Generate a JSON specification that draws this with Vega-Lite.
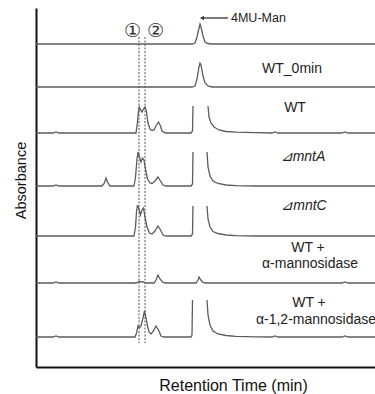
{
  "$schema": "https://vega.github.io/schema/vega-lite/v6.json",
  "width": 339,
  "height": 359,
  "padding": {"left": 36, "top": 8, "right": 0, "bottom": 27},
  "autosize": {"type": "none"},
  "config": {"view": {"stroke": null}, "font": "Liberation Sans"},
  "datasets": {
    "traces": [
      {"trace":"4MU","part":"a","time":0,"abs":323},{"trace":"4MU","part":"a","time":15.6,"abs":323},{"trace":"4MU","part":"a","time":15.9,"abs":324},{"trace":"4MU","part":"a","time":16.1,"abs":330},{"trace":"4MU","part":"a","time":16.3,"abs":339},{"trace":"4MU","part":"a","time":16.4,"abs":343},{"trace":"4MU","part":"a","time":16.5,"abs":340},{"trace":"4MU","part":"a","time":16.7,"abs":331},{"trace":"4MU","part":"a","time":16.9,"abs":325},{"trace":"4MU","part":"a","time":17.2,"abs":323.5},{"trace":"4MU","part":"a","time":17.6,"abs":323},{"trace":"4MU","part":"a","time":33.9,"abs":323},

      {"trace":"WT0","part":"a","time":0,"abs":280},{"trace":"WT0","part":"a","time":15.6,"abs":280},{"trace":"WT0","part":"a","time":15.9,"abs":281},{"trace":"WT0","part":"a","time":16.1,"abs":288},{"trace":"WT0","part":"a","time":16.3,"abs":300},{"trace":"WT0","part":"a","time":16.4,"abs":304},{"trace":"WT0","part":"a","time":16.5,"abs":302},{"trace":"WT0","part":"a","time":16.7,"abs":291},{"trace":"WT0","part":"a","time":16.9,"abs":284},{"trace":"WT0","part":"a","time":17.2,"abs":281},{"trace":"WT0","part":"a","time":17.6,"abs":280},{"trace":"WT0","part":"a","time":33.9,"abs":280},

      {"trace":"WT","part":"a","time":0,"abs":234},{"trace":"WT","part":"a","time":1.7,"abs":234},{"trace":"WT","part":"a","time":2.0,"abs":235},{"trace":"WT","part":"a","time":2.3,"abs":234},{"trace":"WT","part":"a","time":10.0,"abs":234},{"trace":"WT","part":"a","time":10.15,"abs":245},{"trace":"WT","part":"a","time":10.25,"abs":256},{"trace":"WT","part":"a","time":10.33,"abs":260},{"trace":"WT","part":"a","time":10.45,"abs":257},{"trace":"WT","part":"a","time":10.6,"abs":255},{"trace":"WT","part":"a","time":10.75,"abs":258},{"trace":"WT","part":"a","time":10.9,"abs":260},{"trace":"WT","part":"a","time":11.05,"abs":255},{"trace":"WT","part":"a","time":11.2,"abs":244},{"trace":"WT","part":"a","time":11.4,"abs":238},{"trace":"WT","part":"a","time":11.6,"abs":236.5},{"trace":"WT","part":"a","time":11.8,"abs":237},{"trace":"WT","part":"a","time":12.0,"abs":241},{"trace":"WT","part":"a","time":12.25,"abs":245},{"trace":"WT","part":"a","time":12.45,"abs":241},{"trace":"WT","part":"a","time":12.6,"abs":236},{"trace":"WT","part":"a","time":12.8,"abs":234.5},{"trace":"WT","part":"a","time":13.0,"abs":234},{"trace":"WT","part":"a","time":15.5,"abs":234},{"trace":"WT","part":"a","time":15.65,"abs":236},{"trace":"WT","part":"a","time":15.7,"abs":261},
      {"trace":"WT","part":"b","time":17.2,"abs":261},{"trace":"WT","part":"b","time":17.3,"abs":250},{"trace":"WT","part":"b","time":17.5,"abs":244},{"trace":"WT","part":"b","time":17.8,"abs":240},{"trace":"WT","part":"b","time":18.3,"abs":237},{"trace":"WT","part":"b","time":19.0,"abs":235.5},{"trace":"WT","part":"b","time":20.0,"abs":234.8},{"trace":"WT","part":"b","time":22.0,"abs":234.3},{"trace":"WT","part":"b","time":23.6,"abs":234},{"trace":"WT","part":"b","time":23.9,"abs":235},{"trace":"WT","part":"b","time":24.2,"abs":234},{"trace":"WT","part":"b","time":30.6,"abs":234},{"trace":"WT","part":"b","time":30.9,"abs":235},{"trace":"WT","part":"b","time":31.2,"abs":234},{"trace":"WT","part":"b","time":33.9,"abs":234},

      {"trace":"mntA","part":"a","time":0,"abs":181},{"trace":"mntA","part":"a","time":1.7,"abs":181},{"trace":"mntA","part":"a","time":2.0,"abs":182},{"trace":"mntA","part":"a","time":2.3,"abs":181},{"trace":"mntA","part":"a","time":6.6,"abs":181},{"trace":"mntA","part":"a","time":6.85,"abs":184},{"trace":"mntA","part":"a","time":7.0,"abs":189},{"trace":"mntA","part":"a","time":7.15,"abs":185},{"trace":"mntA","part":"a","time":7.4,"abs":181},{"trace":"mntA","part":"a","time":9.8,"abs":181},{"trace":"mntA","part":"a","time":9.95,"abs":190},{"trace":"mntA","part":"a","time":10.1,"abs":208},{"trace":"mntA","part":"a","time":10.2,"abs":215},{"trace":"mntA","part":"a","time":10.35,"abs":210},{"trace":"mntA","part":"a","time":10.5,"abs":205},{"trace":"mntA","part":"a","time":10.65,"abs":209},{"trace":"mntA","part":"a","time":10.8,"abs":207},{"trace":"mntA","part":"a","time":10.95,"abs":198},{"trace":"mntA","part":"a","time":11.15,"abs":188},{"trace":"mntA","part":"a","time":11.4,"abs":184},{"trace":"mntA","part":"a","time":11.6,"abs":183.5},{"trace":"mntA","part":"a","time":11.9,"abs":186},{"trace":"mntA","part":"a","time":12.2,"abs":190},{"trace":"mntA","part":"a","time":12.45,"abs":186},{"trace":"mntA","part":"a","time":12.7,"abs":182},{"trace":"mntA","part":"a","time":13.0,"abs":181},{"trace":"mntA","part":"a","time":15.5,"abs":181},{"trace":"mntA","part":"a","time":15.65,"abs":183},{"trace":"mntA","part":"a","time":15.7,"abs":215},
      {"trace":"mntA","part":"b","time":17.1,"abs":215},{"trace":"mntA","part":"b","time":17.2,"abs":200},{"trace":"mntA","part":"b","time":17.4,"abs":191},{"trace":"mntA","part":"b","time":17.7,"abs":186},{"trace":"mntA","part":"b","time":18.2,"abs":183.5},{"trace":"mntA","part":"b","time":19.0,"abs":182},{"trace":"mntA","part":"b","time":20.0,"abs":181.3},{"trace":"mntA","part":"b","time":22.0,"abs":181},{"trace":"mntA","part":"b","time":33.9,"abs":181},

      {"trace":"mntC","part":"a","time":0,"abs":131},{"trace":"mntC","part":"a","time":9.8,"abs":131},{"trace":"mntC","part":"a","time":9.95,"abs":140},{"trace":"mntC","part":"a","time":10.05,"abs":155},{"trace":"mntC","part":"a","time":10.15,"abs":162},{"trace":"mntC","part":"a","time":10.3,"abs":158},{"trace":"mntC","part":"a","time":10.45,"abs":152},{"trace":"mntC","part":"a","time":10.6,"abs":157},{"trace":"mntC","part":"a","time":10.75,"abs":159},{"trace":"mntC","part":"a","time":10.9,"abs":150},{"trace":"mntC","part":"a","time":11.1,"abs":140},{"trace":"mntC","part":"a","time":11.35,"abs":134},{"trace":"mntC","part":"a","time":11.6,"abs":133},{"trace":"mntC","part":"a","time":11.9,"abs":136},{"trace":"mntC","part":"a","time":12.2,"abs":141},{"trace":"mntC","part":"a","time":12.45,"abs":137},{"trace":"mntC","part":"a","time":12.7,"abs":132},{"trace":"mntC","part":"a","time":13.0,"abs":131},{"trace":"mntC","part":"a","time":15.5,"abs":131},{"trace":"mntC","part":"a","time":15.65,"abs":133},{"trace":"mntC","part":"a","time":15.7,"abs":161},
      {"trace":"mntC","part":"b","time":17.1,"abs":161},{"trace":"mntC","part":"b","time":17.2,"abs":148},{"trace":"mntC","part":"b","time":17.4,"abs":140},{"trace":"mntC","part":"b","time":17.7,"abs":135.5},{"trace":"mntC","part":"b","time":18.2,"abs":133.5},{"trace":"mntC","part":"b","time":19.0,"abs":132},{"trace":"mntC","part":"b","time":20.0,"abs":131.3},{"trace":"mntC","part":"b","time":22.0,"abs":131},{"trace":"mntC","part":"b","time":33.9,"abs":131},

      {"trace":"aman","part":"a","time":0,"abs":84},{"trace":"aman","part":"a","time":1.7,"abs":84},{"trace":"aman","part":"a","time":2.0,"abs":85},{"trace":"aman","part":"a","time":2.3,"abs":84},{"trace":"aman","part":"a","time":10.0,"abs":84},{"trace":"aman","part":"a","time":10.3,"abs":85.5},{"trace":"aman","part":"a","time":10.7,"abs":85},{"trace":"aman","part":"a","time":11.0,"abs":84},{"trace":"aman","part":"a","time":11.8,"abs":84},{"trace":"aman","part":"a","time":12.0,"abs":87},{"trace":"aman","part":"a","time":12.2,"abs":92},{"trace":"aman","part":"a","time":12.4,"abs":88},{"trace":"aman","part":"a","time":12.7,"abs":84.5},{"trace":"aman","part":"a","time":13.0,"abs":84},{"trace":"aman","part":"a","time":16.0,"abs":84},{"trace":"aman","part":"a","time":16.2,"abs":87},{"trace":"aman","part":"a","time":16.3,"abs":90},{"trace":"aman","part":"a","time":16.45,"abs":87.5},{"trace":"aman","part":"a","time":16.7,"abs":84.5},{"trace":"aman","part":"a","time":17.0,"abs":84},{"trace":"aman","part":"a","time":30.6,"abs":84},{"trace":"aman","part":"a","time":30.9,"abs":85},{"trace":"aman","part":"a","time":31.2,"abs":84},{"trace":"aman","part":"a","time":33.9,"abs":84},

      {"trace":"a12","part":"a","time":0,"abs":30},{"trace":"a12","part":"a","time":1.7,"abs":30},{"trace":"a12","part":"a","time":2.0,"abs":31},{"trace":"a12","part":"a","time":2.3,"abs":30},{"trace":"a12","part":"a","time":9.9,"abs":30},{"trace":"a12","part":"a","time":10.05,"abs":34},{"trace":"a12","part":"a","time":10.2,"abs":41},{"trace":"a12","part":"a","time":10.35,"abs":39.5},{"trace":"a12","part":"a","time":10.5,"abs":41},{"trace":"a12","part":"a","time":10.7,"abs":49},{"trace":"a12","part":"a","time":10.85,"abs":56},{"trace":"a12","part":"a","time":11.0,"abs":49},{"trace":"a12","part":"a","time":11.15,"abs":41},{"trace":"a12","part":"a","time":11.3,"abs":35},{"trace":"a12","part":"a","time":11.5,"abs":33},{"trace":"a12","part":"a","time":11.75,"abs":36},{"trace":"a12","part":"a","time":12.0,"abs":41},{"trace":"a12","part":"a","time":12.25,"abs":37},{"trace":"a12","part":"a","time":12.5,"abs":31},{"trace":"a12","part":"a","time":12.8,"abs":30},{"trace":"a12","part":"a","time":15.5,"abs":30},{"trace":"a12","part":"a","time":15.6,"abs":32},{"trace":"a12","part":"a","time":15.65,"abs":67},
      {"trace":"a12","part":"b","time":17.1,"abs":67},{"trace":"a12","part":"b","time":17.2,"abs":52},{"trace":"a12","part":"b","time":17.4,"abs":42},{"trace":"a12","part":"b","time":17.7,"abs":36},{"trace":"a12","part":"b","time":18.2,"abs":33},{"trace":"a12","part":"b","time":19.0,"abs":31.5},{"trace":"a12","part":"b","time":20.0,"abs":30.6},{"trace":"a12","part":"b","time":22.0,"abs":30.2},{"trace":"a12","part":"b","time":23.6,"abs":30},{"trace":"a12","part":"b","time":23.9,"abs":31},{"trace":"a12","part":"b","time":24.2,"abs":30},{"trace":"a12","part":"b","time":30.6,"abs":30},{"trace":"a12","part":"b","time":30.9,"abs":31},{"trace":"a12","part":"b","time":31.2,"abs":30},{"trace":"a12","part":"b","time":33.9,"abs":30}
    ],
    "dashes": [
      {"time": 10.3, "abs": 330, "abs2": 24},
      {"time": 10.9, "abs": 330, "abs2": 24}
    ],
    "arrow": [{"time": 16.7, "time2": 19.2, "abs": 349}],
    "head": [{"time": 16.6, "abs": 349}],
    "circles": [
      {"time": 9.65, "abs": 336, "text": "①"},
      {"time": 11.95, "abs": 336, "text": "②"}
    ],
    "labels": [
      {"time": 25.6, "abs": 298, "text": "WT_0min"},
      {"time": 25.9, "abs": 259, "text": "WT"},
      {"time": 27.2, "abs": 119, "text": "WT +"},
      {"time": 27.4, "abs": 103, "text": "α-mannosidase"},
      {"time": 27.3, "abs": 64, "text": "WT +"},
      {"time": 28.0, "abs": 47, "text": "α-1,2-mannosidase"}
    ],
    "italic": [
      {"time": 26.7, "abs": 210, "text": "⊿mntA"},
      {"time": 26.8, "abs": 161, "text": "⊿mntC"}
    ],
    "small": [
      {"time": 19.5, "abs": 349, "text": "4MU-Man"}
    ]
  },
  "layer": [
    {
      "data": {"name": "traces"},
      "mark": {"type": "line", "color": "#5c5c5c", "strokeWidth": 1.3},
      "encoding": {
        "x": {"field": "time", "type": "quantitative",
          "scale": {"domain": [0, 33.9], "nice": false, "zero": false},
          "axis": {"title": "Retention Time (min)", "labels": false, "ticks": false, "grid": false,
            "domainColor": "#111", "domainWidth": 2,
            "titleFont": "Liberation Sans", "titleFontSize": 16, "titleFontWeight": "normal", "titleColor": "#111",
            "titleX": 197, "titleY": 18, "titleBaseline": "middle", "titleAlign": "center"}},
        "y": {"field": "abs", "type": "quantitative",
          "scale": {"domain": [0, 359], "nice": false},
          "axis": {"title": "Absorbance", "labels": false, "ticks": false, "grid": false,
            "domainColor": "#111", "domainWidth": 2,
            "titleFont": "Liberation Sans", "titleFontSize": 14.5, "titleFontWeight": "normal", "titleColor": "#111",
            "titleX": -15, "titleY": 172, "titleAngle": -90, "titleBaseline": "middle", "titleAlign": "center"}},
        "detail": [{"field": "trace"}, {"field": "part"}]
      }
    },
    {
      "data": {"name": "dashes"},
      "mark": {"type": "rule", "color": "#555", "strokeWidth": 1, "strokeDash": [2, 1.5]},
      "encoding": {
        "x": {"field": "time", "type": "quantitative"},
        "y": {"field": "abs", "type": "quantitative"},
        "y2": {"field": "abs2"}
      }
    },
    {
      "data": {"name": "arrow"},
      "mark": {"type": "rule", "color": "#333", "strokeWidth": 1.3},
      "encoding": {
        "x": {"field": "time", "type": "quantitative"},
        "x2": {"field": "time2"},
        "y": {"field": "abs", "type": "quantitative"}
      }
    },
    {
      "data": {"name": "head"},
      "mark": {"type": "point", "shape": "triangle-left", "filled": true, "color": "#333", "size": 22, "opacity": 1},
      "encoding": {
        "x": {"field": "time", "type": "quantitative"},
        "y": {"field": "abs", "type": "quantitative"}
      }
    },
    {
      "data": {"name": "circles"},
      "mark": {"type": "text", "font": "DejaVu Sans", "fontSize": 19, "color": "#333", "baseline": "middle", "align": "center"},
      "encoding": {
        "x": {"field": "time", "type": "quantitative"},
        "y": {"field": "abs", "type": "quantitative"},
        "text": {"field": "text"}
      }
    },
    {
      "data": {"name": "labels"},
      "mark": {"type": "text", "font": "Liberation Sans", "fontSize": 14, "color": "#222", "baseline": "middle", "align": "center"},
      "encoding": {
        "x": {"field": "time", "type": "quantitative"},
        "y": {"field": "abs", "type": "quantitative"},
        "text": {"field": "text"}
      }
    },
    {
      "data": {"name": "italic"},
      "mark": {"type": "text", "font": "Liberation Sans", "fontSize": 14, "fontStyle": "italic", "color": "#222", "baseline": "middle", "align": "center"},
      "encoding": {
        "x": {"field": "time", "type": "quantitative"},
        "y": {"field": "abs", "type": "quantitative"},
        "text": {"field": "text"}
      }
    },
    {
      "data": {"name": "small"},
      "mark": {"type": "text", "font": "Liberation Sans", "fontSize": 12.5, "color": "#222", "baseline": "middle", "align": "left"},
      "encoding": {
        "x": {"field": "time", "type": "quantitative"},
        "y": {"field": "abs", "type": "quantitative"},
        "text": {"field": "text"}
      }
    }
  ]
}
